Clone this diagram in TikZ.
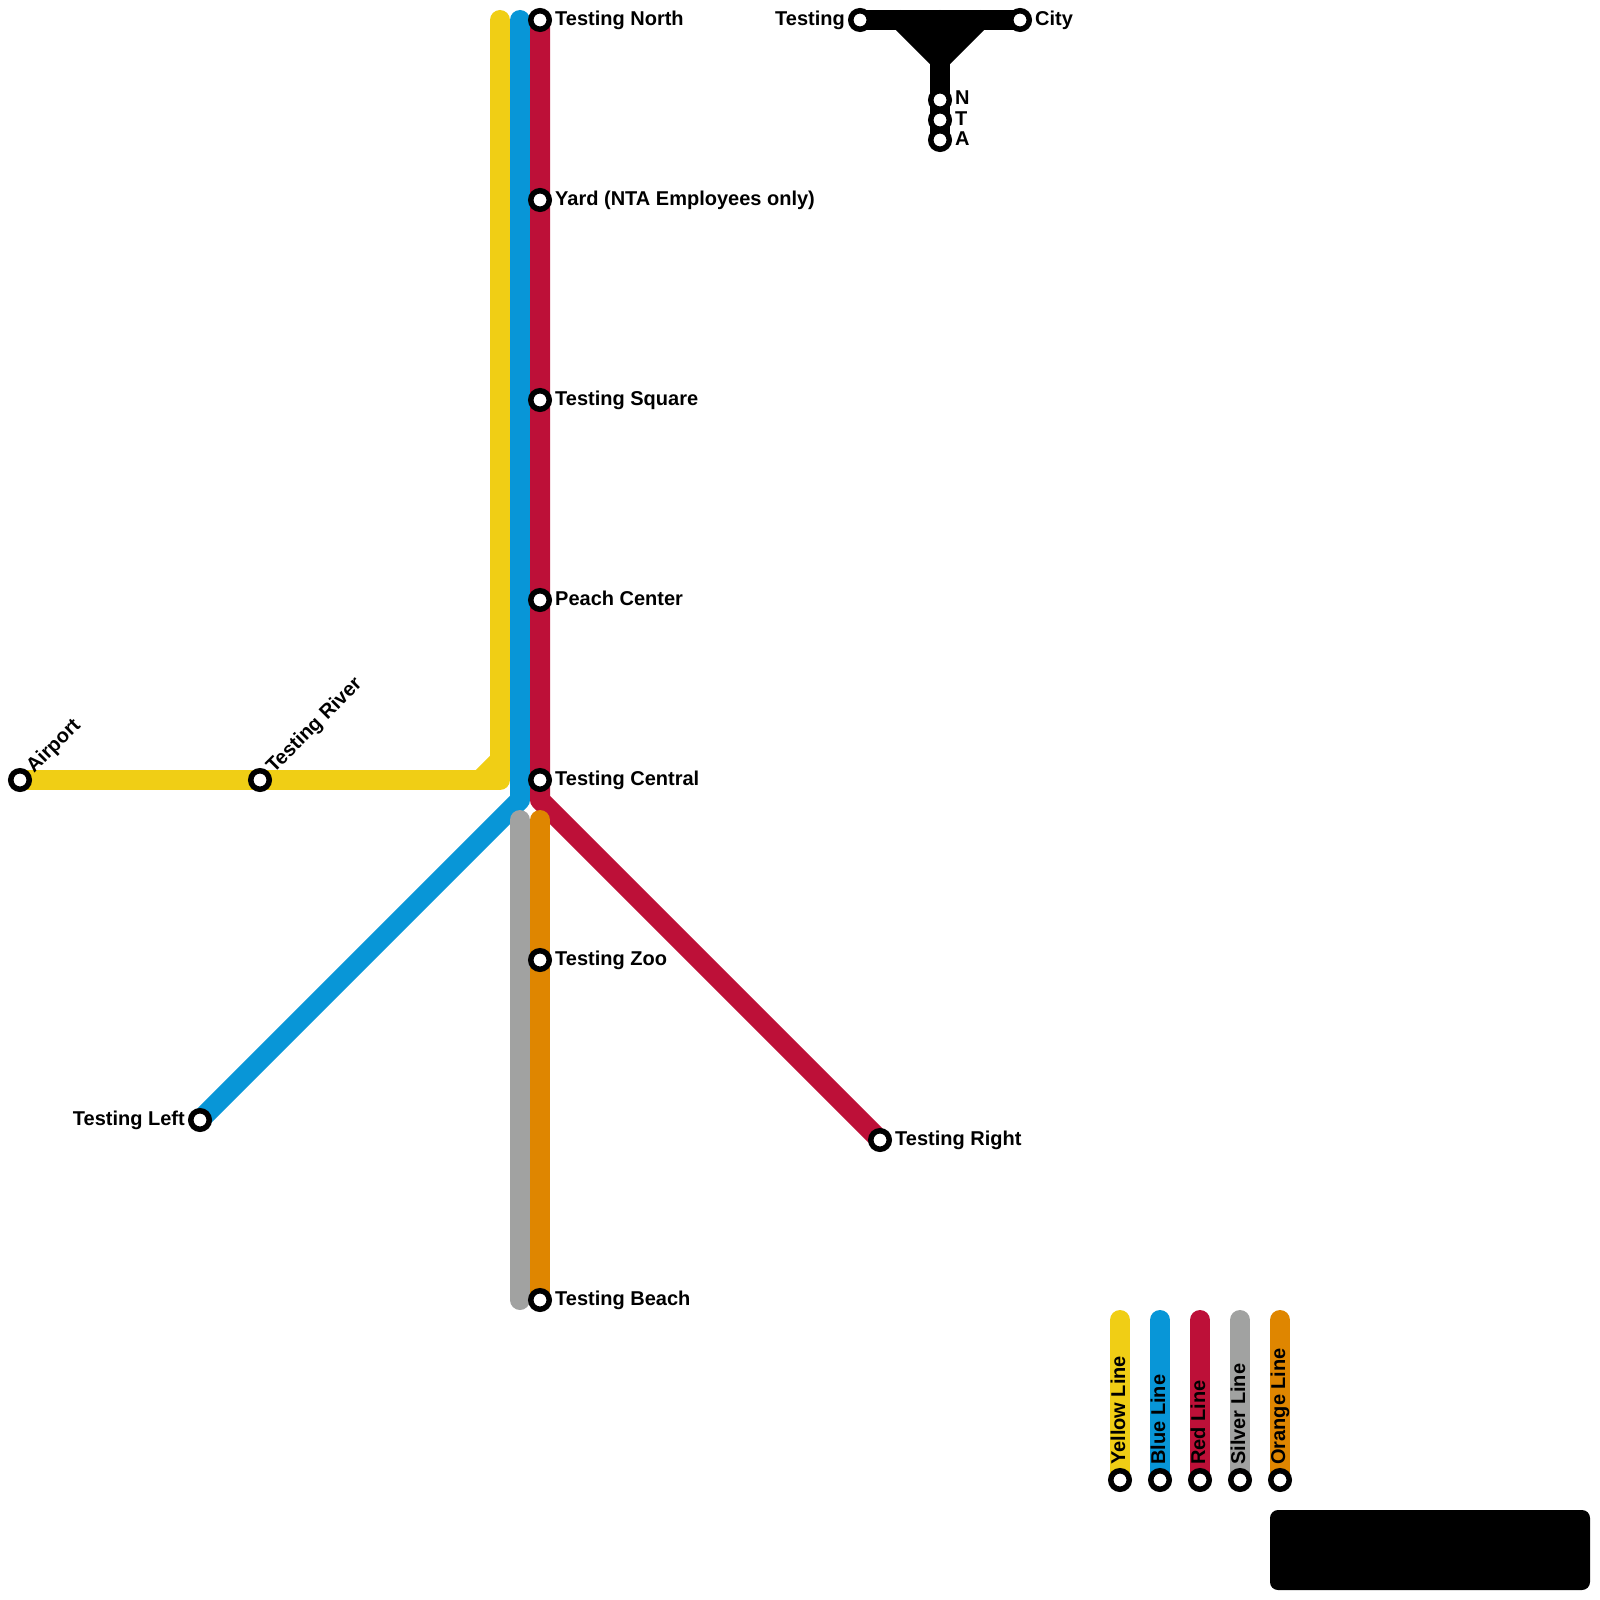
\documentclass[tikz,border=0pt]{standalone}
\usepackage{fontspec}
\setmainfont{Liberation Sans}
\definecolor{lyellow}{HTML}{F0CE15}
\definecolor{lblue}{HTML}{0896D7}
\definecolor{lred}{HTML}{BD1038}
\definecolor{lsilver}{HTML}{A1A2A1}
\definecolor{lorange}{HTML}{DF8600}
\tikzset{
  metro/.style={line width=20pt,line cap=round,line join=round},
  station/.style={circle,draw=black,fill=white,line width=5.5pt,minimum size=18.5pt,inner sep=0pt,outer sep=0pt},
  lab/.style={font=\fontsize{20pt}{24pt}\selectfont\bfseries,text=black,inner sep=0pt,anchor=base west},
  labl/.style={font=\fontsize{20pt}{24pt}\selectfont\bfseries,text=black,inner sep=0pt,anchor=base east},
  labd/.style={lab,rotate=45},
  labv/.style={lab,rotate=90}
}
\begin{document}
\begin{tikzpicture}[x=1pt,y=-1pt]
\useasboundingbox (0,0) rectangle (1600,1600);
% named points
\coordinate (airport) at (20,780);
\coordinate (river) at (260,780);
\coordinate (ycorner) at (500,780);
\coordinate (ytop) at (500,20);
\coordinate (ychamA) at (500,760);
\coordinate (ychamB) at (480,780);
\coordinate (btop) at (520,20);
\coordinate (bbend) at (520,800);
\coordinate (tleft) at (200,1120);
\coordinate (north) at (540,20);
\coordinate (yard) at (540,200);
\coordinate (square) at (540,400);
\coordinate (peach) at (540,600);
\coordinate (central) at (540,780);
\coordinate (rbend) at (540,800);
\coordinate (tright) at (880,1140);
\coordinate (stop) at (520,820);
\coordinate (sbot) at (520,1300);
\coordinate (otop) at (540,820);
\coordinate (zoo) at (540,960);
\coordinate (beach) at (540,1300);
\coordinate (tst) at (860,20);
\coordinate (city) at (1020,20);
\coordinate (tjunc) at (940,20);
\coordinate (tl) at (900,20);
\coordinate (tr) at (980,20);
\coordinate (tm) at (940,60);
\coordinate (nn) at (940,100);
\coordinate (nt) at (940,120);
\coordinate (na) at (940,140);
\foreach \n/\x in {ly/1120,lb/1160,lr/1200,ls/1240,lo/1280}{
  \coordinate (\n top) at (\x,1320);
  \coordinate (\n) at (\x,1480);
}
% lines
\draw[metro,lyellow] (ytop) -- (ycorner) -- (airport);
\draw[metro,lyellow] (ychamA) -- (ychamB);
\draw[metro,lblue] (btop) -- (bbend) -- (tleft);
\draw[metro,lred] (north) -- (rbend) -- (tright);
\draw[metro,lsilver] (stop) -- (sbot);
\draw[metro,lorange] (otop) -- (beach);
\fill[black] (tl) -- (tr) -- (tm) -- cycle;
\draw[metro,black] (tst) -- (city);
\draw[metro,black] (tjunc) -- (na);
\draw[metro,black] (tl) -- (tm) -- (tr);
\draw[metro,lyellow] (lytop) -- (ly);
\draw[metro,lblue] (lbtop) -- (lb);
\draw[metro,lred] (lrtop) -- (lr);
\draw[metro,lsilver] (lstop) -- (ls);
\draw[metro,lorange] (lotop) -- (lo);
% stations
\foreach \n in {airport,river,tleft,north,yard,square,peach,central,zoo,beach,tright,tst,city,nn,nt,na,ly,lb,lr,ls,lo}{
  \node[station] (st-\n) at (\n) {};
}
% labels
\node[lab] (t-north) at (555,25.5) {Testing North};
\node[lab] (t-yard) at (555,205) {Yard (NTA Employees only)};
\node[lab] (t-square) at (555,405) {Testing Square};
\node[lab] (t-peach) at (555,605) {Peach Center};
\node[lab] (t-central) at (555,785.5) {Testing Central};
\node[lab] (t-zoo) at (555,965.5) {Testing Zoo};
\node[lab] (t-beach) at (555,1305) {Testing Beach};
\node[lab] (t-right) at (895,1145) {Testing Right};
\node[labl] (t-left) at (185,1125.5) {Testing Left};
\node[labl] (t-tst) at (845,25.5) {Testing};
\node[lab] (t-city) at (1035,25.5) {City};
\node[lab] (t-n) at (955,105) {N};
\node[lab] (t-t) at (955,125) {T};
\node[lab] (t-a) at (955,146) {A};
\node[labd] (t-airport) at (34,774) {Airport};
\node[labd] (t-river) at (274,774) {Testing River};
\node[labv] (t-ly) at (1125,1465) {Yellow Line};
\node[labv] (t-lb) at (1165,1465) {Blue Line};
\node[labv] (t-lr) at (1205,1465) {Red Line};
\node[labv] (t-ls) at (1245,1465) {Silver Line};
\node[labv] (t-lo) at (1285,1465) {Orange Line};
% black panel
\fill[black,rounded corners=8pt] (1270,1510) rectangle (1590,1590);
\end{tikzpicture}
\end{document}
